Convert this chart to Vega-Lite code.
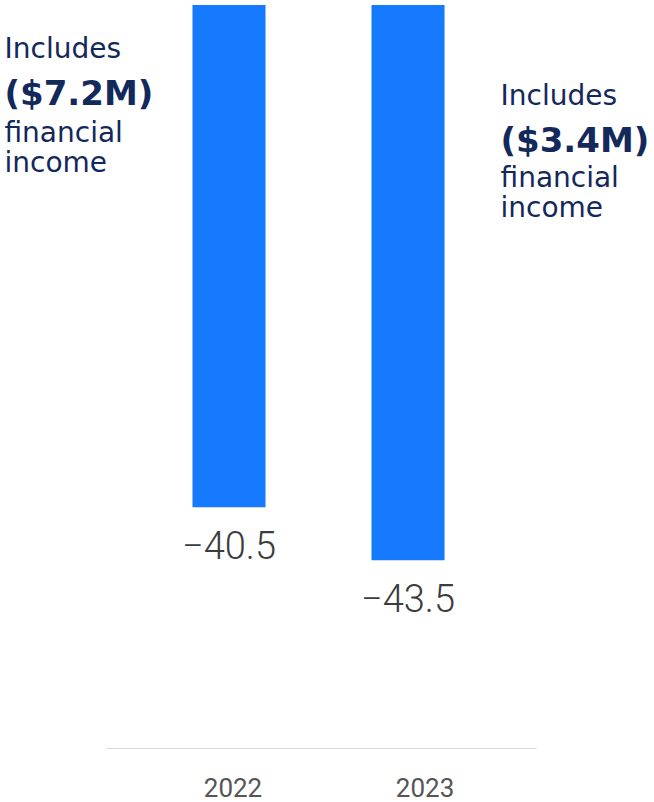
{
  "$schema": "https://vega.github.io/schema/vega-lite/v6.json",
  "autosize": "none",
  "width": 430,
  "height": 743,
  "padding": {"left": 106, "top": 5, "right": 118, "bottom": 54},
  "background": "white",
  "config": {"view": {"stroke": null}},
  "datasets": {
    "bars": [
      {"year": "2022", "value": -40.5},
      {"year": "2023", "value": -43.5}
    ],
    "notes": [
      {"year": "2022", "line": "Includes", "pos": -15.08, "bold": false},
      {"year": "2022", "line": "($7.2M)", "pos": -17.74, "bold": true},
      {"year": "2022", "line": "financial", "pos": -19.83, "bold": false},
      {"year": "2022", "line": "income", "pos": -21.53, "bold": false},
      {"year": "2023", "line": "Includes", "pos": -17.74, "bold": false},
      {"year": "2023", "line": "($3.4M)", "pos": -20.4, "bold": true},
      {"year": "2023", "line": "financial", "pos": -22.38, "bold": false},
      {"year": "2023", "line": "income", "pos": -24.08, "bold": false}
    ]
  },
  "encoding": {
    "x": {
      "field": "year",
      "type": "nominal",
      "scale": {"paddingInner": 0.592, "paddingOuter": 0.497, "align": 0.486},
      "axis": {
        "title": null,
        "labelAngle": 0,
        "ticks": false,
        "tickSize": 0,
        "domainColor": "#d9d9d9",
        "domainWidth": 1,
        "labelFont": "Roboto",
        "labelFontSize": 26,
        "labelColor": "#555555",
        "labelBaseline": "top",
        "labelPadding": 27,
        "labelOffset": {"condition": {"test": "datum.value == '2023'", "value": 17}, "value": 4}
      }
    }
  },
  "layer": [
    {
      "data": {"name": "bars"},
      "mark": {"type": "bar", "color": "#157AFE", "clip": true},
      "encoding": {
        "y": {
          "field": "value",
          "type": "quantitative",
          "scale": {"domain": [-54.13, -12.08], "zero": false, "nice": false},
          "axis": null
        }
      }
    },
    {
      "data": {"name": "bars"},
      "mark": {"type": "text", "font": "Roboto", "fontWeight": 300, "fontSize": 38, "color": "#3c3c3c", "baseline": "alphabetic", "align": "center", "dy": 52},
      "encoding": {
        "y": {"field": "value", "type": "quantitative"},
        "text": {"field": "value", "type": "quantitative", "format": ".1f"}
      }
    },
    {
      "data": {"name": "notes"},
      "transform": [{"filter": "datum.year == '2022' && !datum.bold"}],
      "mark": {"type": "text", "font": "DejaVu Sans", "fontSize": 28, "color": "#13285B", "align": "left", "baseline": "alphabetic", "dx": -188},
      "encoding": {
        "x": {"field": "year", "type": "nominal", "bandPosition": 0},
        "y": {"field": "pos", "type": "quantitative"},
        "text": {"field": "line"}
      }
    },
    {
      "data": {"name": "notes"},
      "transform": [{"filter": "datum.year == '2022' && datum.bold"}],
      "mark": {"type": "text", "font": "DejaVu Sans", "fontWeight": "bold", "fontSize": 34, "color": "#13285B", "align": "left", "baseline": "alphabetic", "dx": -188},
      "encoding": {
        "x": {"field": "year", "type": "nominal", "bandPosition": 0},
        "y": {"field": "pos", "type": "quantitative"},
        "text": {"field": "line"}
      }
    },
    {
      "data": {"name": "notes"},
      "transform": [{"filter": "datum.year == '2023' && !datum.bold"}],
      "mark": {"type": "text", "font": "DejaVu Sans", "fontSize": 28, "color": "#13285B", "align": "left", "baseline": "alphabetic", "dx": 129},
      "encoding": {
        "x": {"field": "year", "type": "nominal", "bandPosition": 0},
        "y": {"field": "pos", "type": "quantitative"},
        "text": {"field": "line"}
      }
    },
    {
      "data": {"name": "notes"},
      "transform": [{"filter": "datum.year == '2023' && datum.bold"}],
      "mark": {"type": "text", "font": "DejaVu Sans", "fontWeight": "bold", "fontSize": 34, "color": "#13285B", "align": "left", "baseline": "alphabetic", "dx": 129},
      "encoding": {
        "x": {"field": "year", "type": "nominal", "bandPosition": 0},
        "y": {"field": "pos", "type": "quantitative"},
        "text": {"field": "line"}
      }
    }
  ]
}
